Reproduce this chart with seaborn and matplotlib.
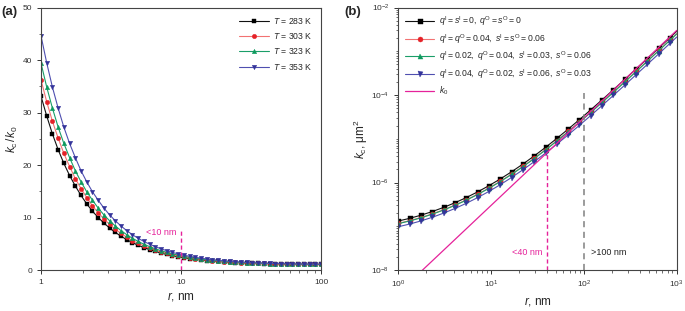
import numpy as np
import pandas as pd
import seaborn as sns
import matplotlib
matplotlib.use("Agg")
from matplotlib import pyplot as plt
from matplotlib import ticker

# ---- panel (a): k_c / k_0 against r at four temperatures ----
r_a = [1.000, 1.099, 1.207, 1.326, 1.456, 1.600, 1.758, 1.931, 2.121, 2.330,
       2.560, 2.812, 3.089, 3.393, 3.728, 4.095, 4.498, 4.942, 5.429, 5.964,
       6.551, 7.197, 7.906, 8.685, 9.541, 10.48, 11.51, 12.65, 13.89, 15.26,
       16.77, 18.42, 20.24, 22.23, 24.42, 26.83, 29.47, 32.37, 35.56, 39.07,
       42.92, 47.15, 51.79, 56.90, 62.51, 68.66, 75.43, 82.86, 91.03, 100.0]

ratio_283 = [33.1, 29.3, 25.9, 22.9, 20.3, 18.0, 16.0, 14.2, 12.6, 11.2,
             10.0, 8.95, 8.00, 7.17, 6.43, 5.79, 5.21, 4.71, 4.27, 3.88,
             3.54, 3.24, 2.97, 2.73, 2.53, 2.35, 2.18, 2.04, 1.92, 1.81,
             1.71, 1.63, 1.55, 1.49, 1.43, 1.38, 1.33, 1.29, 1.26, 1.23,
             1.20, 1.18, 1.16, 1.14, 1.12, 1.11, 1.09, 1.08, 1.07, 1.06]
ratio_303 = [36.2, 32.0, 28.3, 25.1, 22.2, 19.7, 17.4, 15.5, 13.8, 12.2,
             10.9, 9.72, 8.68, 7.76, 6.96, 6.25, 5.62, 5.07, 4.59, 4.16,
             3.78, 3.45, 3.16, 2.90, 2.68, 2.47, 2.30, 2.14, 2.01, 1.89,
             1.78, 1.69, 1.61, 1.54, 1.47, 1.42, 1.37, 1.32, 1.28, 1.25,
             1.22, 1.19, 1.17, 1.15, 1.13, 1.12, 1.10, 1.09, 1.08, 1.07]
ratio_323 = [39.4, 34.8, 30.8, 27.2, 24.1, 21.4, 18.9, 16.8, 14.9, 13.3,
             11.8, 10.5, 9.38, 8.38, 7.50, 6.73, 6.04, 5.44, 4.91, 4.45,
             4.04, 3.68, 3.36, 3.07, 2.83, 2.61, 2.42, 2.25, 2.10, 1.97,
             1.85, 1.75, 1.66, 1.58, 1.51, 1.45, 1.40, 1.35, 1.31, 1.27,
             1.24, 1.21, 1.19, 1.16, 1.14, 1.13, 1.11, 1.10, 1.09, 1.08]
ratio_353 = [44.6, 39.4, 34.8, 30.8, 27.2, 24.1, 21.4, 18.9, 16.8, 14.9,
             13.3, 11.8, 10.5, 9.38, 8.38, 7.50, 6.72, 6.04, 5.44, 4.92,
             4.45, 4.04, 3.68, 3.35, 3.08, 2.83, 2.61, 2.42, 2.25, 2.10,
             1.97, 1.85, 1.75, 1.66, 1.58, 1.51, 1.45, 1.40, 1.35, 1.31,
             1.27, 1.24, 1.21, 1.19, 1.16, 1.14, 1.13, 1.11, 1.10, 1.09]
temp_labels = [r"$T$ = 283 K", r"$T$ = 303 K", r"$T$ = 323 K", r"$T$ = 353 K"]

# ---- panel (b): k_c against r for four slip settings, plus k_0 ----
r_b = [1.000, 1.324, 1.754, 2.323, 3.076, 4.074, 5.395, 7.145, 9.462, 12.53,
       16.60, 21.98, 29.11, 38.55, 51.05, 67.61, 89.54, 118.6, 157.0, 208.0,
       275.4, 364.8, 483.1, 639.7, 847.2, 1000.0]
k_none = [1.318e-7, 1.517e-7, 1.791e-7, 2.169e-7, 2.697e-7, 3.446e-7, 4.522e-7,
          6.099e-7, 8.451e-7, 1.203e-6, 1.759e-6, 2.636e-6, 4.048e-6, 6.355e-6,
          1.018e-5, 1.659e-5, 2.745e-5, 4.598e-5, 7.773e-5, 1.326e-4, 2.276e-4,
          3.928e-4, 6.801e-4, 1.181e-3, 2.056e-3, 2.855e-3]
k_equal = [1.166e-7, 1.343e-7, 1.585e-7, 1.920e-7, 2.387e-7, 3.050e-7, 4.002e-7,
           5.398e-7, 7.479e-7, 1.065e-6, 1.557e-6, 2.333e-6, 3.582e-6, 5.624e-6,
           9.009e-6, 1.468e-5, 2.429e-5, 4.069e-5, 6.879e-5, 1.174e-4, 2.014e-4,
           3.476e-4, 6.019e-4, 1.045e-3, 1.820e-3, 2.527e-3]
k_mix1 = [1.147e-7, 1.320e-7, 1.558e-7, 1.887e-7, 2.346e-7, 2.998e-7, 3.934e-7,
          5.306e-7, 7.352e-7, 1.047e-6, 1.530e-6, 2.293e-6, 3.522e-6, 5.529e-6,
          8.857e-6, 1.443e-5, 2.388e-5, 4.000e-5, 6.763e-5, 1.154e-4, 1.980e-4,
          3.417e-4, 5.917e-4, 1.027e-3, 1.789e-3, 2.484e-3]
k_mix2 = [9.75e-8, 1.123e-7, 1.325e-7, 1.605e-7, 1.996e-7, 2.550e-7, 3.346e-7,
          4.513e-7, 6.254e-7, 8.902e-7, 1.302e-6, 1.951e-6, 2.996e-6, 4.703e-6,
          7.533e-6, 1.228e-5, 2.031e-5, 3.403e-5, 5.752e-5, 9.812e-5, 1.684e-4,
          2.907e-4, 5.033e-4, 8.739e-4, 1.521e-3, 2.113e-3]
k_zero = [3.0e-9, 5.26e-9, 9.23e-9, 1.619e-8, 2.839e-8, 4.98e-8, 8.73e-8,
          1.532e-7, 2.686e-7, 4.71e-7, 8.27e-7, 1.449e-6, 2.542e-6, 4.458e-6,
          7.82e-6, 1.371e-5, 2.405e-5, 4.22e-5, 7.39e-5, 1.298e-4, 2.275e-4,
          3.992e-4, 7.00e-4, 1.228e-3, 2.153e-3, 3.0e-3]
slip_labels = [r"$q^{\rm I}=s^{\rm I}=0,\ q^{\rm O}=s^{\rm O}=0$",
               r"$q^{\rm I}=q^{\rm O}=0.04,\ s^{\rm I}=s^{\rm O}=0.06$",
               r"$q^{\rm I}=0.02,\ q^{\rm O}=0.04,\ s^{\rm I}=0.03,\ s^{\rm O}=0.06$",
               r"$q^{\rm I}=0.04,\ q^{\rm O}=0.02,\ s^{\rm I}=0.06,\ s^{\rm O}=0.03$",
               r"$k_0$"]

# marker threshold lines
r_cut_a, top_cut_a = 10, 7.8
r_cut_b, top_cut_b = 40.5, 4.7e-6
r_big_b, top_big_b = 100, 1.1e-4

sns.set_style("ticks")
plt.rcParams["font.family"] = ["Liberation Sans", "DejaVu Sans"]
plt.rcParams["mathtext.fontset"] = "custom"
plt.rcParams["mathtext.rm"] = "Liberation Sans"
plt.rcParams["mathtext.it"] = "Liberation Sans:italic"
plt.rcParams["mathtext.bf"] = "Liberation Sans:bold"
plt.rcParams["xtick.direction"] = "out"
plt.rcParams["ytick.direction"] = "out"

line_cols = ["#111111", "#f27272", "#1a9e68", "#4f4fb0"]
mark_cols = ["#000000", "#e52228", "#0e9a5e", "#33339a"]
markers = ["s", "o", "^", "v"]
magenta = "#e5229a"

fig = plt.figure(figsize=(6.85, 3.11), dpi=100)
ax1 = fig.add_axes([0.0599, 0.1318, 0.4088, 0.8440])
ax2 = fig.add_axes([0.5815, 0.1318, 0.4064, 0.8440])

# panel (a)
ax1.set_xscale("log")
for y, lab, lc, mc, mk in zip([ratio_283, ratio_303, ratio_323, ratio_353],
                              temp_labels, line_cols, mark_cols, markers):
    sns.lineplot(x=r_a, y=y, ax=ax1, color=lc, lw=0.8, marker=mk, ms=3.2,
                 markerfacecolor=mc, markeredgecolor=mc, mew=0.3,
                 label=lab, sort=False)
ax1.vlines(r_cut_a, 0, top_cut_a, colors=magenta, linestyles=(0, (3, 2)), lw=1)
ax1.text(9.3, 7.1, "<10 nm", color=magenta, fontsize=6.5, ha="right", va="center")
ax1.set_xlim(1, 100)
ax1.set_ylim(0, 50)
ax1.yaxis.set_major_locator(ticker.MultipleLocator(10))
ax1.yaxis.set_minor_locator(ticker.MultipleLocator(5))
ax1.xaxis.set_major_formatter(ticker.FuncFormatter(lambda v, p: f"{v:g}"))
ax1.set_xlabel(r"$r$, nm", fontsize=8.5, labelpad=3)
ax1.set_ylabel(r"$k_{\rm c}\,/k_{0}$", fontsize=8.5, labelpad=2)
ax1.legend(loc="upper right", frameon=False, fontsize=6.2, handlelength=3.4,
           handletextpad=0.5, labelspacing=0.6, borderaxespad=0.6)

# panel (b)
ax2.set_xscale("log")
ax2.set_yscale("log")
for y, lab, lc, mc, mk in zip([k_none, k_equal, k_mix1, k_mix2],
                              slip_labels[:4], line_cols, mark_cols, markers):
    sns.lineplot(x=r_b, y=y, ax=ax2, color=lc, lw=0.8, marker=mk, ms=3.6,
                 markerfacecolor=mc, markeredgecolor=mc, mew=0.3,
                 markevery=slice(0, len(r_b) - 1), label=lab, sort=False)
sns.lineplot(x=r_b, y=k_zero, ax=ax2, color=magenta, lw=0.9,
             label=slip_labels[4], sort=False)
ax2.vlines(r_cut_b, 1e-8, top_cut_b, colors=magenta, linestyles=(0, (3, 2)), lw=1)
ax2.vlines(r_big_b, 1e-8, top_big_b, colors="#808080", linestyles=(0, (4, 3)), lw=1.1)
ax2.text(36, 2.5e-8, "<40 nm", color=magenta, fontsize=6.5, ha="right", va="center")
ax2.text(120, 2.5e-8, ">100 nm", color="#222222", fontsize=6.5, ha="left", va="center")
ax2.set_xlim(1, 1000)
ax2.set_ylim(1e-8, 1e-2)
ax2.yaxis.set_major_locator(ticker.LogLocator(base=100))
ax2.yaxis.set_minor_locator(ticker.LogLocator(base=10, subs=np.arange(1, 10), numticks=20))
ax2.yaxis.set_minor_formatter(ticker.NullFormatter())
ax2.set_xlabel(r"$r$, nm", fontsize=8.5, labelpad=3)
ax2.set_ylabel(r"$k_{\rm c}$, μm$^2$", fontsize=8.5, labelpad=1)
ax2.legend(loc="upper left", frameon=False, fontsize=6.2, handlelength=3.4,
           handletextpad=0.5, labelspacing=0.45, borderaxespad=0.4)

for ax in (ax1, ax2):
    ax.tick_params(which="major", labelsize=6, length=3, width=0.7, colors="#333333")
    ax.tick_params(which="minor", length=1.8, width=0.5, colors="#333333")
    for s in ax.spines.values():
        s.set_color("#444444")
        s.set_linewidth(0.8)

fig.text(0.002, 0.962, "(a)", fontsize=9.5, fontweight="bold", va="center")
fig.text(0.503, 0.962, "(b)", fontsize=9.5, fontweight="bold", va="center")

fig.savefig("out.png", dpi=100)
